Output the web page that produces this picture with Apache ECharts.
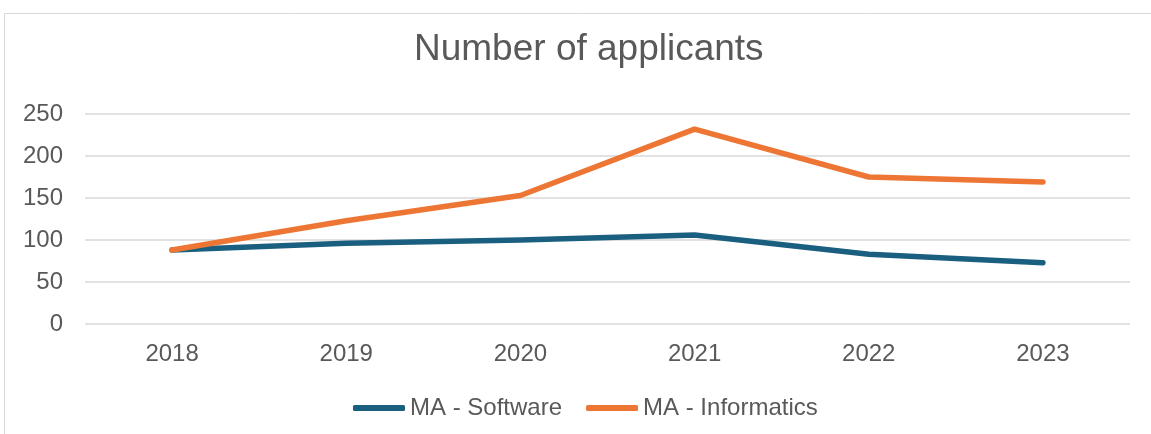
<!DOCTYPE html>
<html>
<head>
<meta charset="utf-8">
<script src="https://cdn.jsdelivr.net/npm/echarts@6/dist/echarts.min.js"></script>
<style>
	html, body {margin: 0; padding: 0; background: #fff;}
	#main {width: 1151px; height: 434px;}
</style>
</head>
<body>
<div id="main"></div>
<script>
var years = ['2018', '2019', '2020', '2021', '2022', '2023']
var software = [88, 96, 100, 106, 83, 73]
var informatics = [88, 123, 153, 232, 175, 169]

var textColor = '#595959'
var chart = echarts.init(document.getElementById('main'))

chart.setOption({
	backgroundColor: '#fff',
	textStyle: {fontFamily: 'Liberation Sans'},
	//外框
	graphic: [{
		type: 'rect',
		shape: {x: 4.5, y: 13.5, width: 1200, height: 500},
		style: {fill: 'none', stroke: '#d9d9d9', lineWidth: 1}
	}],
	title: {
		text: 'Number of applicants',
		left: 409,
		top: 26,
		textStyle: {fontSize: 37, fontWeight: 'normal', color: textColor, fontFamily: 'Liberation Sans'}
	},
	legend: {
		bottom: 9,
		left: 348,
		icon: 'roundRect',
		itemWidth: 52,
		itemHeight: 6,
		itemGap: 24,
		textStyle: {fontSize: 24, color: textColor},
		data: ['MA - Software', 'MA - Informatics']
	},
	grid: {left: 85, right: 21, top: 114, bottom: 110},
	xAxis: {
		type: 'category',
		data: years,
		axisLine: {show: false},
		axisTick: {show: false},
		axisLabel: {fontSize: 24, color: textColor, margin: 18}
	},
	yAxis: {
		type: 'value',
		min: 0,
		max: 250,
		interval: 50,
		axisLabel: {fontSize: 24, color: textColor, margin: 22},
		splitLine: {lineStyle: {color: '#d9d9d9', width: 1.5}}
	},
	series: [{
		name: 'MA - Software',
		type: 'line',
		data: software,
		symbol: 'none',
		color: '#1b5f80',
		lineStyle: {width: 5.5, cap: 'round', join: 'round'}
	}, {
		name: 'MA - Informatics',
		type: 'line',
		data: informatics,
		symbol: 'none',
		color: '#ed7634',
		lineStyle: {width: 5.5, cap: 'round', join: 'round'}
	}]
})
</script>
</body>
</html>
